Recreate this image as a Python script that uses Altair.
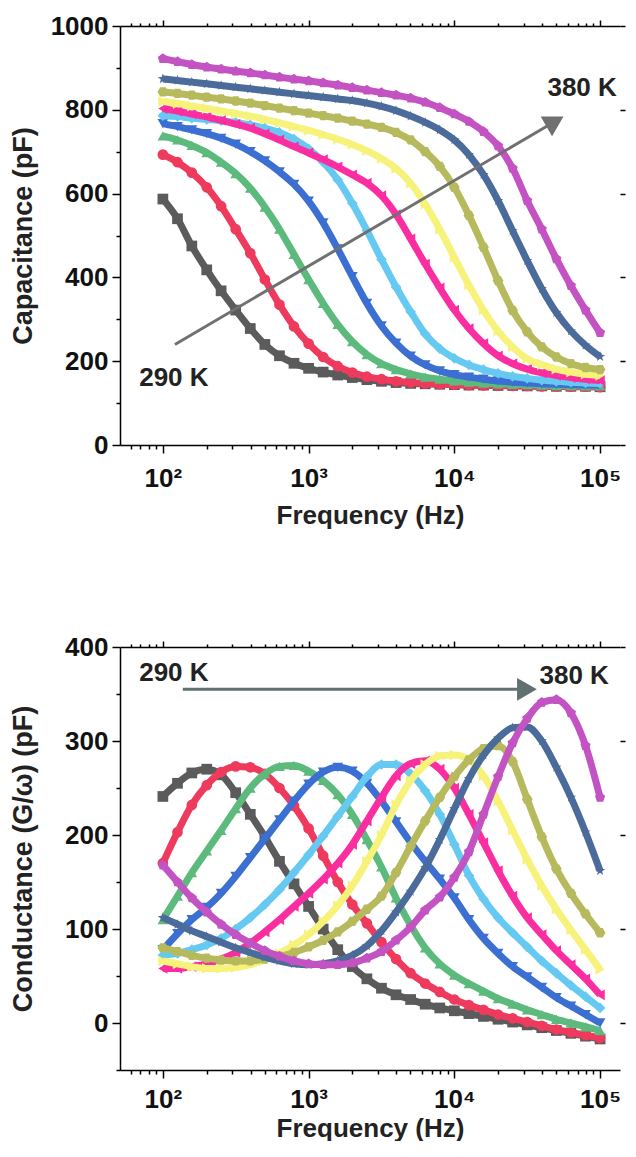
import altair as alt
import pandas as pd

FONT = "Liberation Sans"

# measurement frequencies (Hz)
freq = [100, 126, 158, 200, 251, 316, 398, 501, 631, 794,
        1000, 1259, 1585, 1995, 2512, 3162, 3981, 5012, 6310, 7943,
        10000, 12589, 15849, 19953, 25119, 31623, 39811, 50119, 63096, 79433, 100000]

temps = ["290 K", "300 K", "310 K", "320 K", "330 K", "340 K", "350 K", "360 K", "370 K", "380 K"]

# Capacitance (pF)
cap_290 = [587, 540, 475, 418, 368, 322, 278, 240, 213, 195, 183, 174, 167, 161, 156, 152, 149, 147, 146, 145, 144, 143, 143, 142, 142, 141, 141, 140, 140, 140, 139]
cap_300 = [693, 675, 650, 615, 570, 515, 458, 395, 335, 283, 242, 210, 188, 173, 163, 157, 152, 149, 147, 145, 144, 143, 142, 142, 141, 141, 140, 140, 139, 139, 138]
cap_310 = [738, 728, 715, 698, 675, 648, 613, 568, 515, 455, 395, 338, 288, 247, 216, 194, 180, 170, 162, 157, 153, 150, 148, 146, 145, 144, 143, 142, 142, 141, 141]
cap_320 = [767, 760, 752, 743, 732, 718, 700, 678, 652, 622, 582, 530, 468, 402, 338, 284, 243, 212, 191, 177, 168, 162, 157, 153, 150, 148, 146, 145, 144, 143, 143]
cap_330 = [786, 784, 780, 777, 774, 770, 764, 756, 746, 730, 707, 675, 633, 577, 512, 443, 377, 318, 265, 230, 207, 191, 180, 171, 164, 159, 155, 152, 150, 148, 147]
cap_340 = [803, 797, 790, 783, 775, 766, 756, 743, 728, 712, 697, 681, 664, 645, 625, 595, 550, 492, 432, 375, 322, 278, 242, 213, 194, 181, 172, 166, 161, 157, 154]
cap_350 = [820, 815, 809, 803, 797, 791, 785, 777, 769, 760, 751, 741, 730, 717, 702, 684, 660, 625, 575, 515, 448, 382, 322, 272, 234, 206, 192, 181, 174, 169, 166]
cap_360 = [843, 839, 835, 830, 826, 821, 816, 810, 804, 798, 792, 786, 780, 773, 766, 758, 746, 728, 700, 665, 615, 548, 472, 392, 321, 270, 234, 210, 194, 185, 180]
cap_370 = [874, 870, 866, 862, 858, 854, 850, 846, 842, 838, 834, 830, 826, 822, 816, 808, 798, 785, 770, 752, 728, 693, 645, 583, 511, 440, 373, 316, 272, 238, 211]
cap_380 = [922, 915, 908, 902, 897, 892, 888, 883, 878, 873, 869, 864, 859, 853, 847, 841, 835, 828, 818, 805, 790, 772, 748, 714, 660, 583, 515, 444, 380, 322, 268]

# Conductance G/omega (pF)
cond_290 = [241, 255, 266, 270, 264, 245, 222, 198, 172, 148, 124, 100, 78, 60, 47, 37, 30, 25, 20, 16, 13, 10, 7, 4, 1, -2, -5, -8, -11, -14, -17]
cond_300 = [170, 203, 232, 253, 267, 273, 272, 265, 250, 231, 207, 178, 150, 126, 106, 86, 68, 53, 42, 33, 25, 19, 14, 9, 5, 1, -3, -7, -10, -13, -16]
cond_310 = [110, 135, 160, 183, 205, 228, 250, 265, 273, 274, 268, 258, 243, 222, 195, 166, 133, 104, 80, 63, 51, 42, 34, 26, 20, 14, 9, 4, 0, -4, -8]
cond_320 = [78, 95, 110, 123, 138, 156, 176, 196, 216, 236, 254, 267, 272, 268, 255, 236, 214, 192, 172, 153, 133, 110, 90, 74, 60, 49, 38, 27, 18, 9, 0]
cond_330 = [72, 74, 78, 83, 90, 100, 112, 126, 142, 160, 179, 199, 220, 241, 262, 275, 275, 265, 247, 222, 190, 157, 132, 112, 96, 81, 66, 53, 40, 28, 16]
cond_340 = [58, 58, 60, 63, 68, 75, 85, 97, 110, 124, 138, 153, 170, 190, 215, 240, 263, 276, 279, 270, 250, 222, 192, 162, 135, 112, 94, 77, 62, 47, 30]
cond_350 = [66, 63, 60, 58, 58, 59, 62, 67, 74, 83, 94, 108, 125, 146, 172, 200, 232, 258, 275, 284, 285, 280, 263, 236, 205, 174, 146, 121, 99, 78, 57]
cond_360 = [80, 76, 72, 69, 67, 66, 66, 68, 71, 75, 81, 88, 97, 108, 121, 135, 160, 188, 215, 240, 262, 280, 292, 295, 278, 238, 198, 164, 138, 116, 96]
cond_370 = [112, 105, 98, 92, 86, 80, 75, 70, 66, 63, 62, 63, 66, 72, 82, 98, 118, 140, 165, 195, 228, 260, 285, 303, 314, 315, 300, 272, 240, 203, 162]
cond_380 = [168, 150, 133, 118, 105, 94, 85, 77, 71, 66, 63, 62, 62, 64, 69, 76, 88, 102, 120, 134, 155, 182, 222, 262, 298, 324, 341, 344, 330, 295, 240]

colors = ["#5b5b5b", "#ee3a5c", "#5dba7d", "#3c6fd2", "#66c9f2",
          "#fa2ea0", "#f6f27a", "#b7ba5c", "#4b6b9a", "#c353c2"]

HEXAGON = "M1,0L0.5,0.866L-0.5,0.866L-1,0L-0.5,-0.866L0.5,-0.866Z"
STAR = ("M0,-1L0.235,-0.324L0.951,-0.309L0.38,0.124L0.588,0.809L0,0.4"
        "L-0.588,0.809L-0.38,0.124L-0.951,-0.309L-0.235,-0.324Z")
PENTAGON = "M0,-1L0.951,-0.309L0.588,0.809L-0.588,0.809L-0.951,-0.309Z"
shapes = ["square", "circle", "triangle-up", "triangle-down", "diamond",
          "triangle-left", "triangle-right", HEXAGON, STAR, PENTAGON]

# axis ticks
x_major = [100, 1000, 10000, 100000]
x_minor = [60, 70, 80, 90, 200, 300, 400, 500, 600, 700, 800, 900,
           2000, 3000, 4000, 5000, 6000, 7000, 8000, 9000,
           20000, 30000, 40000, 50000, 60000, 70000, 80000, 90000]
x_domain = [50.8, 137000]
cap_major = [0, 200, 400, 600, 800, 1000]
cap_minor = [100, 300, 500, 700, 900]
cond_major = [0, 100, 200, 300, 400]
cond_minor = [-50, 50, 150, 250, 350]

# annotations (data coordinates)
top_arrow_f = [121, 49000]
top_arrow_v = [240, 772]
top_text = ["290 K", "380 K"]
top_text_f = [119, 75300]
top_text_v = [161, 853]
bot_arrow_f = [137, 31500]
bot_arrow_v = [355, 355]
bot_text = ["290 K", "380 K"]
bot_text_f = [119, 66400]
bot_text_v = [372, 369]

LBL = "'10' + ['\u2070','\u00b9','\u00b2','\u00b3','\u2074','\u2075','\u2076'][round(log(datum.value)/LN10)]"


def long_df(series):
    rows = []
    for t, vals in zip(temps, series):
        for f, v in zip(freq, vals):
            rows.append({"T": t, "f": f, "v": v})
    return pd.DataFrame(rows)


cap_df = long_df([cap_290, cap_300, cap_310, cap_320, cap_330,
                  cap_340, cap_350, cap_360, cap_370, cap_380])
cond_df = long_df([cond_290, cond_300, cond_310, cond_320, cond_330,
                   cond_340, cond_350, cond_360, cond_370, cond_380])


def panel(df, y_dom, y_major, y_minor, y_title, height, label_pad, title_pad,
          arrow_f, arrow_v, head_angle, head_color, text, text_f, text_v):
    xs = alt.Scale(type="log", domain=x_domain, nice=False)
    ys = alt.Scale(domain=y_dom, nice=False, zero=False)
    cs = alt.Scale(domain=temps, range=colors)
    ss = alt.Scale(domain=temps, range=shapes)

    x_axes = [
        alt.Axis(orient="bottom", values=x_major, labelExpr=LBL, title="Frequency (Hz)",
                 tickSize=8, labelPadding=label_pad, titlePadding=title_pad, grid=False,
                 titleFontSize=26, labelFlush=False),
        alt.Axis(orient="bottom", values=x_minor, labels=False, tickSize=4,
                 title=None, grid=False, domain=False),
        alt.Axis(orient="top", values=x_major, labels=False, tickSize=6,
                 title=None, grid=False),
        alt.Axis(orient="top", values=x_minor, labels=False, tickSize=3,
                 domain=False, title=None, grid=False),
    ]
    y_axes = [
        alt.Axis(orient="left", values=y_major, format="d", title=y_title, tickSize=8,
                 labelPadding=4, titleX=-83, grid=False, labelFlush=False,
                 titleFontSize=27),
        alt.Axis(orient="left", values=y_minor, labels=False, tickSize=4,
                 title=None, domain=False, grid=False),
        alt.Axis(orient="right", values=y_major, labels=False, tickSize=5,
                 domain=False, title=None, grid=False),
    ]

    layers = []
    k = 0
    for t in temps:
        base = alt.Chart(df).transform_filter(alt.datum.T == t)
        for kind in ("line", "point"):
            xa = x_axes[k] if k < len(x_axes) else None
            ya = y_axes[k] if k < len(y_axes) else None
            enc = dict(
                x=alt.X("f:Q", scale=xs, axis=xa),
                y=alt.Y("v:Q", scale=ys, axis=ya),
                color=alt.Color("T:N", scale=cs, legend=None),
            )
            if kind == "line":
                m = base.mark_line(strokeWidth=7, interpolate="monotone")
            else:
                m = base.mark_point(filled=True, size=115, opacity=1)
                enc["shape"] = alt.Shape("T:N", scale=ss, legend=None)
            layers.append(m.encode(**enc))
            k += 1

    arrow_df = pd.DataFrame({"f1": [arrow_f[0]], "f2": [arrow_f[1]],
                             "v1": [arrow_v[0]], "v2": [arrow_v[1]]})
    head_df = pd.DataFrame({"f": [arrow_f[1]], "v": [arrow_v[1]]})
    text_df = pd.DataFrame({"label": text, "f": text_f, "v": text_v})

    rule = alt.Chart(arrow_df).mark_rule(strokeWidth=3, color=head_color).encode(
        x=alt.X("f1:Q", scale=xs, axis=None), x2="f2:Q",
        y=alt.Y("v1:Q", scale=ys, axis=None), y2="v2:Q")
    head = alt.Chart(head_df).mark_point(shape="triangle-right", filled=True, size=520,
                                         opacity=1, color=head_color, angle=head_angle).encode(
        x=alt.X("f:Q", scale=xs, axis=None), y=alt.Y("v:Q", scale=ys, axis=None))
    txt = alt.Chart(text_df).mark_text(font=FONT, fontSize=26, fontWeight="bold",
                                       color="#222222").encode(
        x=alt.X("f:Q", scale=xs, axis=None), y=alt.Y("v:Q", scale=ys, axis=None),
        text="label:N")
    layers += [rule, head, txt]

    return alt.layer(*layers).resolve_axis(x="independent", y="independent").properties(
        width=500, height=height)


top = panel(cap_df, [0, 1000], cap_major, cap_minor, "Capacitance (pF)", 419, 12, 11,
            top_arrow_f, top_arrow_v, 330, "#707070", top_text, top_text_f, top_text_v)
bottom = panel(cond_df, [-50, 400], cond_major, cond_minor, "Conductance (G/\u03c9) (pF)",
               423, 8, 3, bot_arrow_f, bot_arrow_v, 0, "#617070",
               bot_text, bot_text_f, bot_text_v)

chart = alt.vconcat(top, bottom, spacing=106).properties(
    padding={"left": 0, "top": 5, "right": 0, "bottom": 0}
).configure_view(stroke=None).configure_axis(
    labelFont=FONT, titleFont=FONT, labelFontSize=26, labelFontWeight="bold",
    titleFontWeight="bold", labelColor="#111111", titleColor="#222222",
    domainColor="#000000", domainWidth=1.5, tickColor="#000000", tickWidth=1.5,
    minExtent=0,
)

chart.save("out.html", embed_options={"renderer": "svg", "actions": False})
